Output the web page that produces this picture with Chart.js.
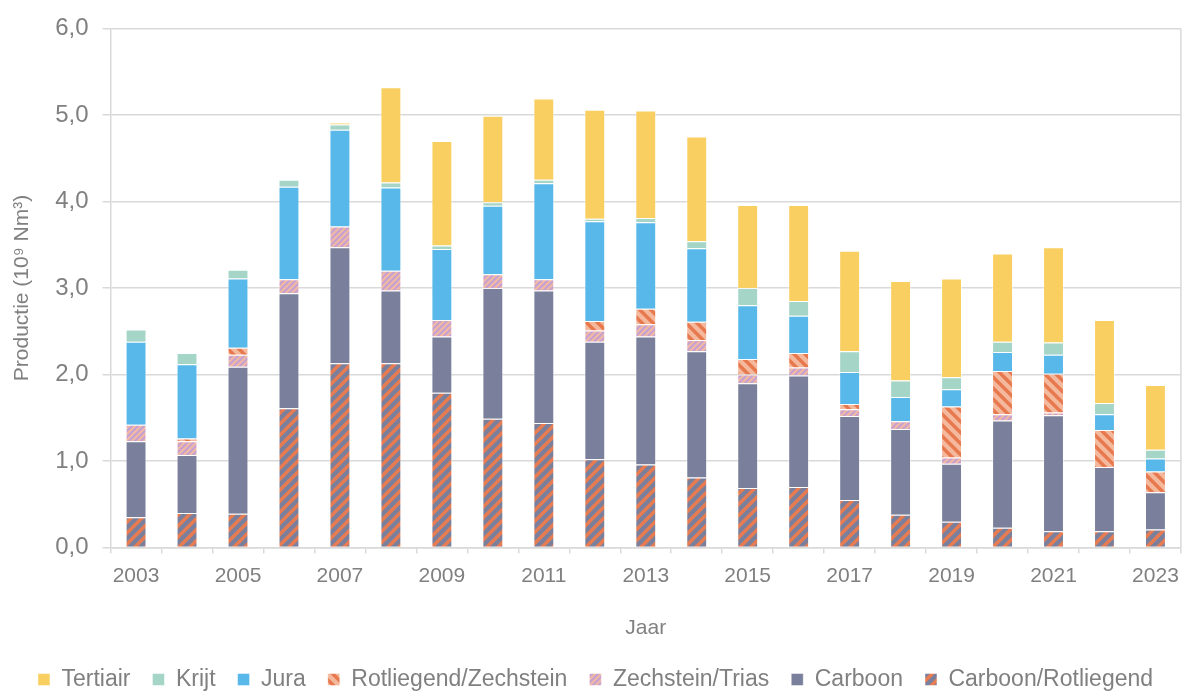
<!DOCTYPE html>
<html>
<head>
<meta charset="utf-8">
<script src="https://cdn.jsdelivr.net/npm/chart.js@4"></script>
<style>
  html, body { margin: 0; padding: 0; background: #fff; }
  #wrap { width: 1189px; height: 691px; }
</style>
</head>
<body>
<div id="wrap"><canvas id="productionChart" width="1189" height="691"></canvas></div>
<script>
// Years on the x-axis
const years = ['2003', '2004', '2005', '2006', '2007', '2008', '2009', '2010', '2011', '2012',
  '2013', '2014', '2015', '2016', '2017', '2018', '2019', '2020', '2021', '2022', '2023'];

// Production per reservoir (10^9 Nm3), stacked bottom to top
const carboonRotliegend = [0.35, 0.40, 0.39, 1.61, 2.13, 2.13, 1.79, 1.49, 1.44, 1.02, 0.96, 0.81, 0.69, 0.70, 0.55, 0.38, 0.30, 0.23, 0.19, 0.19, 0.21];
const carboon = [0.88, 0.67, 1.70, 1.33, 1.34, 0.84, 0.65, 1.51, 1.53, 1.36, 1.48, 1.46, 1.21, 1.29, 0.97, 0.99, 0.67, 1.24, 1.34, 0.74, 0.43];
const zechsteinTrias = [0.19, 0.16, 0.14, 0.16, 0.24, 0.23, 0.19, 0.16, 0.13, 0.13, 0.14, 0.13, 0.10, 0.09, 0.08, 0.09, 0.07, 0.07, 0.03, 0, 0];
const rotliegendZechstein = [0, 0.03, 0.08, 0, 0, 0, 0, 0, 0, 0.11, 0.18, 0.21, 0.18, 0.17, 0.06, 0, 0.59, 0.50, 0.45, 0.43, 0.24];
const jura = [0.96, 0.86, 0.80, 1.07, 1.12, 0.96, 0.82, 0.79, 1.11, 1.15, 1.00, 0.85, 0.62, 0.43, 0.37, 0.28, 0.20, 0.22, 0.22, 0.18, 0.15];
const krijt = [0.14, 0.13, 0.10, 0.08, 0.06, 0.06, 0.04, 0.04, 0.04, 0.03, 0.05, 0.08, 0.20, 0.17, 0.24, 0.19, 0.14, 0.12, 0.14, 0.13, 0.10];
const tertiair = [0, 0, 0, 0, 0.02, 1.10, 1.21, 1.00, 0.94, 1.26, 1.24, 1.21, 0.96, 1.11, 1.16, 1.15, 1.14, 1.02, 1.10, 0.96, 0.75];

const yTicks = [0, 1, 2, 3, 4, 5, 6];

// Diagonal stripe pattern: dir 1 = '/', dir -1 = '\'
function stripes(bg, fg, size, width, dir) {
  const c = document.createElement('canvas');
  c.width = size;
  c.height = size;
  const g = c.getContext('2d');
  g.fillStyle = bg;
  g.fillRect(0, 0, size, size);
  g.strokeStyle = fg;
  g.lineWidth = width;
  g.beginPath();
  for (let k = -1; k <= 1; k++) {
    if (dir > 0) {
      g.moveTo(k * size - 1, size + 1);
      g.lineTo(k * size + size + 1, -1);
    } else {
      g.moveTo(k * size - 1, -1);
      g.lineTo(k * size + size + 1, size + 1);
    }
  }
  g.stroke();
  return g.createPattern(c, 'repeat');
}

const grey = '#808080';
const font = 'Liberation Sans, Arial, sans-serif';

// Right-hand frame line of the plot area
const rightBorder = {
  id: 'rightBorder',
  beforeDatasetsDraw(chart) {
    const { ctx, chartArea } = chart;
    ctx.save();
    ctx.strokeStyle = '#D9D9D9';
    ctx.lineWidth = 1.5;
    ctx.beginPath();
    ctx.moveTo(chartArea.right, chartArea.top);
    ctx.lineTo(chartArea.right, chartArea.bottom);
    ctx.stroke();
    ctx.restore();
  }
};

document.addEventListener('DOMContentLoaded', function() {
  const ctx = document.getElementById('productionChart').getContext('2d');
  const edge = 'rgba(255,255,255,0.45)';

  const datasets = [
    { label: 'Carboon/Rotliegend', data: carboonRotliegend, backgroundColor: stripes('#7A809C', '#E77C52', 11, 3.5, 1) },
    { label: 'Carboon', data: carboon, backgroundColor: '#7A809C' },
    { label: 'Zechstein/Trias', data: zechsteinTrias, backgroundColor: stripes('#F0B9A4', '#C7A0D2', 6, 2, 1) },
    { label: 'Rotliegend/Zechstein', data: rotliegendZechstein, backgroundColor: stripes('#F4B89C', '#E8794F', 11, 3.5, -1) },
    { label: 'Jura', data: jura, backgroundColor: '#58B8E9' },
    { label: 'Krijt', data: krijt, backgroundColor: '#A5D5C7' },
    { label: 'Tertiair', data: tertiair, backgroundColor: '#F8CF60' }
  ].map(d => Object.assign(d, {
    borderColor: edge,
    borderWidth: 1,
    barPercentage: 0.41,
    categoryPercentage: 1
  }));

  new Chart(ctx, {
    type: 'bar',
    data: { labels: years, datasets: datasets },
    plugins: [rightBorder],
    options: {
      responsive: false,
      animation: false,
      layout: { padding: { top: 20, right: 8, left: 10, bottom: -10 } },
      plugins: {
        tooltip: { enabled: false },
        legend: {
          position: 'bottom',
          reverse: true,
          labels: {
            color: grey,
            font: { family: font, size: 23 },
            boxWidth: 12,
            boxHeight: 12,
            padding: 22
          }
        }
      },
      scales: {
        x: {
          stacked: true,
          grid: { display: true, drawOnChartArea: false, drawTicks: true, tickLength: 6, color: '#D9D9D9', lineWidth: 1.5 },
          border: { color: '#D9D9D9', width: 1.5 },
          ticks: {
            color: grey,
            font: { family: font, size: 21 },
            maxRotation: 0,
            autoSkip: false,
            padding: 10,
            callback: function(value, index) {
              return index % 2 === 0 ? years[index] : '';
            }
          },
          title: {
            display: true,
            text: 'Jaar',
            color: grey,
            font: { family: font, size: 21 },
            padding: { top: 17, bottom: 5 }
          }
        },
        y: {
          stacked: true,
          min: yTicks[0],
          max: yTicks[yTicks.length - 1],
          afterBuildTicks: function(axis) {
            axis.ticks = yTicks.map(v => ({ value: v }));
          },
          grid: { color: '#D9D9D9', lineWidth: 1.5, tickLength: 8 },
          border: { color: '#D9D9D9', width: 1.5 },
          ticks: {
            color: grey,
            font: { family: font, size: 24 },
            padding: 14,
            callback: function(value) {
              return value.toFixed(1).replace('.', ',');
            }
          },
          title: {
            display: true,
            text: 'Productie (10⁹ Nm³)',
            color: grey,
            font: { family: font, size: 21 },
            padding: { top: 0, bottom: 6 }
          }
        }
      }
    }
  });
});
</script>
</body>
</html>
